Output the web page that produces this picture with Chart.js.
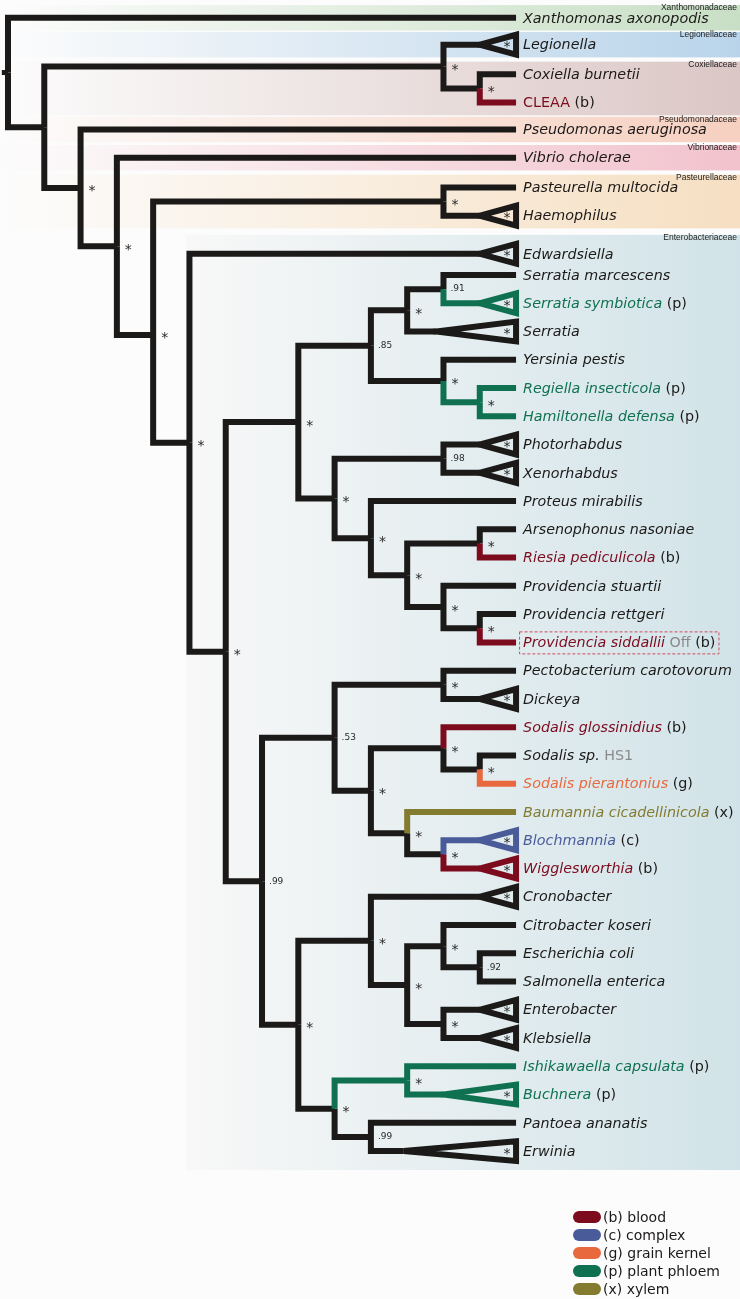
<!DOCTYPE html>
<html>
<head>
<meta charset="utf-8">
<script src="https://cdn.jsdelivr.net/npm/chart.js@4.4.1/dist/chart.umd.min.js"></script>
<style>
  html, body { margin: 0; padding: 0; background: #fcfcfc; }
  #wrap { width: 740px; height: 1299px; }
</style>
</head>
<body>
<div id="wrap"><canvas id="treeChart" width="740" height="1299"></canvas></div>
<script>
// leaves, top to bottom
var leafNames = ['Xanthomonas axonopodis', 'Legionella', 'Coxiella burnetii', 'CLEAA', 'Pseudomonas aeruginosa',
  'Vibrio cholerae', 'Pasteurella multocida', 'Haemophilus', 'Edwardsiella', 'Serratia marcescens',
  'Serratia symbiotica', 'Serratia', 'Yersinia pestis', 'Regiella insecticola', 'Hamiltonella defensa',
  'Photorhabdus', 'Xenorhabdus', 'Proteus mirabilis', 'Arsenophonus nasoniae', 'Riesia pediculicola',
  'Providencia stuartii', 'Providencia rettgeri', 'Providencia siddallii', 'Pectobacterium carotovorum', 'Dickeya',
  'Sodalis glossinidius', 'Sodalis sp.', 'Sodalis pierantonius', 'Baumannia cicadellinicola', 'Blochmannia',
  'Wigglesworthia', 'Cronobacter', 'Citrobacter koseri', 'Escherichia coli', 'Salmonella enterica',
  'Enterobacter', 'Klebsiella', 'Ishikawaella capsulata', 'Buchnera', 'Pantoea ananatis', 'Erwinia'];
var leafRows = [-0.1, 0.85, 1.9, 2.9, 3.85, 4.85, 5.9, 6.9, 8.25, 9,
  10, 11, 12, 13, 14, 15, 16, 17, 18, 19,
  20, 21, 22, 23, 24, 25, 26, 27, 28, 29,
  30, 31, 32, 33, 34, 35, 36, 37, 38, 39, 40];
var leafHabitat = ['', '', '', 'b', '', '', '', '', '', '',
  'p', '', '', 'p', 'p', '', '', '', '', 'b',
  '', '', 'b', '', '', 'b', '', 'g', 'x', 'c',
  'b', '', '', '', '', '', '', 'p', 'p', '', ''];
var leafStrain = { 22: 'Off', 26: 'HS1' };
var uprightNames = ['CLEAA'];
// depth where a collapsed clade's triangle starts
var collapsedAt = [null, 13, null, null, null, null, null, 13, 13, null,
  13, 11.8, null, null, null, 13, 13, null, null, null,
  null, null, null, null, 13, null, null, null, null, 13,
  13, 13, null, null, null, 13, 13, null, 12, null, 10.9];
var tipDepth = 14;

// topology: d = depth, s = support, h = habitat of the stem, at = drawn row
var tree = {d: 0, c: [0,
  {d: 1, c: [
    {d: 12, s: '*', c: [1, {d: 13, s: '*', c: [2, 3]}]},
    {d: 2, s: '*', c: [4,
      {d: 3, s: '*', c: [5,
        {d: 4, s: '*', at: 11.12, c: [
          {d: 12, s: '*', c: [6, 7]},
          {d: 5, s: '*', at: 14.94, c: [8,
            {d: 6, s: '*', c: [
              {d: 8, s: '*', c: [
                {d: 10, s: '.85', c: [
                  {d: 11, s: '*', c: [{d: 12, s: '.91', c: [9, 10]}, 11]},
                  {d: 12, s: '*', c: [12, {d: 13, s: '*', h: 'p', c: [13, 14]}]}
                ]},
                {d: 9, s: '*', c: [
                  {d: 12, s: '.98', c: [15, 16]},
                  {d: 10, s: '*', c: [17,
                    {d: 11, s: '*', c: [
                      {d: 13, s: '*', c: [18, 19]},
                      {d: 12, s: '*', c: [20, {d: 13, s: '*', c: [21, 22]}]}
                    ]}
                  ]}
                ]}
              ]},
              {d: 7, s: '.99', c: [
                {d: 9, s: '.53', c: [
                  {d: 12, s: '*', c: [23, 24]},
                  {d: 10, s: '*', c: [
                    {d: 12, s: '*', c: [25, {d: 13, s: '*', c: [26, 27]}]},
                    {d: 11, s: '*', c: [28, {d: 12, s: '*', c: [29, 30]}]}
                  ]}
                ]},
                {d: 8, s: '*', c: [
                  {d: 10, s: '*', c: [31,
                    {d: 11, s: '*', c: [
                      {d: 12, s: '*', c: [32, {d: 13, s: '.92', c: [33, 34]}]},
                      {d: 12, s: '*', c: [35, 36]}
                    ]}
                  ]},
                  {d: 9, s: '*', c: [
                    {d: 11, s: '*', h: 'p', c: [37, 38]},
                    {d: 10, s: '.99', c: [39, 40]}
                  ]}
                ]}
              ]}
            ]}
          ]}
        ]}
      ]}
    ]}
  ]}
]};

var families = ['Xanthomonadaceae', 'Legionellaceae', 'Coxiellaceae', 'Pseudomonadaceae', 'Vibrionaceae', 'Pasteurellaceae', 'Enterobacteriaceae'];
var familyFirst = [0, 1, 2, 4, 5, 6, 8];
var familyLast = [0, 1, 3, 4, 5, 7, 40];

var legendCodes = ['b', 'c', 'g', 'p', 'x'];
var legendLabels = ['blood', 'complex', 'grain kernel', 'plant phloem', 'xylem'];

// styles
var habitatColors = { b: '#7c0b1e', c: '#4a5b9a', g: '#e9693f', p: '#0f7150', x: '#837b30' };
var familyColors = ['#c8dfc5', '#b9d4ea', '#dbc7c5', '#f6d0c0', '#f2c2cd', '#f6dfc2', '#d1e3e8'];
var ink = '#1c1a19';

function rowOf(n) {
  if (typeof n === 'number') return leafRows[n];
  if (n.row === undefined) {
    var a = rowOf(n.c[0]), b = rowOf(n.c[n.c.length - 1]);
    n.row = n.at !== undefined ? n.at : (a + b) / 2;
  }
  return n.row;
}
rowOf(tree);

var datasets = [];
var supports = [];
function addLine(points, color, width) {
  datasets.push({
    data: points, showLine: true, borderColor: color, borderWidth: width,
    pointRadius: 0, borderJoinStyle: 'miter', borderCapStyle: 'butt', tension: 0,
    order: color === ink ? 1 : 0
  });
}
function walk(n) {
  if (n.s) supports.push({ x: n.d, y: n.row, s: n.s });
  n.c.forEach(function (ch) {
    var r = rowOf(ch), endX, col;
    if (typeof ch === 'number') {
      endX = collapsedAt[ch] !== null ? collapsedAt[ch] : tipDepth;
      col = leafHabitat[ch] ? habitatColors[leafHabitat[ch]] : ink;
    } else {
      endX = ch.d;
      col = ch.h ? habitatColors[ch.h] : ink;
    }
    addLine([{ x: n.d, y: n.row }, { x: n.d, y: r }, { x: endX, y: r }], col, 6);
    if (typeof ch !== 'number') walk(ch);
  });
}
walk(tree);
addLine([{ x: -0.17, y: tree.row }, { x: 0, y: tree.row }], ink, 5);

collapsedAt.forEach(function (a, i) {
  if (a === null) return;
  var r = leafRows[i], h = 0.35;
  var col = leafHabitat[i] ? habitatColors[leafHabitat[i]] : ink;
  addLine([{ x: tipDepth, y: r }, { x: tipDepth, y: r + h }, { x: a, y: r },
    { x: tipDepth, y: r - h }, { x: tipDepth, y: r }], col, 6);
});

var treePaint = {
  id: 'treePaint',
  beforeDraw: function (chart) {
    var ctx = chart.ctx;
    ctx.save();
    ctx.fillStyle = '#fcfcfc';
    ctx.fillRect(0, 0, chart.width, chart.height);
    ctx.restore();
  },
  beforeDatasetsDraw: function (chart) {
    var ctx = chart.ctx, xs = chart.scales.x, ys = chart.scales.y;
    ctx.save();
    families.forEach(function (f, i) {
      var entero = i === families.length - 1;
      var pad = entero ? 0.67 : 0.45;
      var top = ys.getPixelForValue(leafRows[familyFirst[i]] - pad);
      var bot = ys.getPixelForValue(leafRows[familyLast[i]] + pad);
      var x0 = entero ? xs.getPixelForValue(4.905) : 0;
      var g = ctx.createLinearGradient(x0, 0, chart.width, 0);
      g.addColorStop(0, entero ? '#f8f8f8' : 'rgba(252,252,252,1)');
      g.addColorStop(1, familyColors[i]);
      ctx.fillStyle = g;
      ctx.fillRect(x0, top, chart.width - x0, bot - top);
      ctx.fillStyle = '#222';
      ctx.font = "8.5px 'Liberation Sans', Arial, sans-serif";
      ctx.textAlign = 'right';
      ctx.textBaseline = 'top';
      ctx.fillText(f, chart.width - 3, top - 1.5);
    });
    ctx.restore();
  },
  afterDatasetsDraw: function (chart) {
    var ctx = chart.ctx, xs = chart.scales.x, ys = chart.scales.y;
    ctx.save();
    // support values at nodes
    supports.forEach(function (p) {
      var px = xs.getPixelForValue(p.x), py = ys.getPixelForValue(p.y);
      ctx.fillStyle = '#2a2a2a';
      if (p.s === '*') {
        ctx.font = "14px 'DejaVu Sans'";
        ctx.textAlign = 'left';
        ctx.textBaseline = 'alphabetic';
        ctx.fillText('*', px + 8, py + 7.5);
      } else {
        ctx.font = "9px 'DejaVu Sans'";
        ctx.textAlign = 'left';
        ctx.textBaseline = 'middle';
        ctx.fillText(p.s, px + 7, py);
      }
    });
    // asterisks inside collapsed clades
    collapsedAt.forEach(function (a, i) {
      if (a === null) return;
      var py = ys.getPixelForValue(leafRows[i]);
      ctx.fillStyle = '#2a2a2a';
      ctx.font = "14px 'DejaVu Sans'";
      ctx.textAlign = 'center';
      ctx.textBaseline = 'alphabetic';
      ctx.fillText('*', xs.getPixelForValue(tipDepth) - 9, py + 6.5);
    });
    // leaf labels
    var lx = xs.getPixelForValue(tipDepth) + 7;
    leafNames.forEach(function (name, i) {
      var py = ys.getPixelForValue(leafRows[i]) + 1;
      var hab = leafHabitat[i];
      var x = lx;
      ctx.textAlign = 'left';
      ctx.textBaseline = 'middle';
      var upright = uprightNames.indexOf(name) >= 0;
      ctx.font = (upright ? '' : 'italic ') + "14.3px 'DejaVu Sans'";
      ctx.fillStyle = hab ? habitatColors[hab] : ink;
      ctx.fillText(name, x, py);
      x += ctx.measureText(name).width;
      ctx.font = "14.3px 'DejaVu Sans'";
      if (leafStrain[i]) {
        ctx.fillStyle = '#8a8a8a';
        ctx.fillText(' ' + leafStrain[i], x, py);
        x += ctx.measureText(' ' + leafStrain[i]).width;
      }
      if (hab) {
        ctx.fillStyle = ink;
        ctx.fillText(' (' + hab + ')', x, py);
        x += ctx.measureText(' (' + hab + ')').width;
      }
      if (leafStrain[i] === 'Off') {
        ctx.strokeStyle = '#d24b5c';
        ctx.lineWidth = 1;
        ctx.setLineDash([3, 2]);
        ctx.strokeRect(lx - 3.5, py - 11.5, x - lx + 7, 22);
        ctx.setLineDash([]);
      }
    });
    // habitat legend
    legendCodes.forEach(function (c, i) {
      var cy = 1217 + i * 18;
      ctx.fillStyle = habitatColors[c];
      ctx.beginPath();
      ctx.roundRect(573, cy - 6, 28, 12, 6);
      ctx.fill();
      ctx.fillStyle = ink;
      ctx.font = "14px 'DejaVu Sans'";
      ctx.textAlign = 'left';
      ctx.textBaseline = 'middle';
      ctx.fillText('(' + c + ') ' + legendLabels[i], 603, cy + 1);
    });
    ctx.restore();
  }
};

new Chart(document.getElementById('treeChart').getContext('2d'), {
  type: 'scatter',
  data: { datasets: datasets },
  options: {
    responsive: false,
    animation: false,
    events: [],
    layout: { padding: 0 },
    plugins: { legend: { display: false }, tooltip: { enabled: false } },
    scales: {
      x: { type: 'linear', display: false, min: -0.2204, max: 20.171 },
      y: { type: 'linear', display: false, reverse: true, min: -0.731, max: 45.235 }
    }
  },
  plugins: [treePaint]
});
</script>
</body>
</html>
